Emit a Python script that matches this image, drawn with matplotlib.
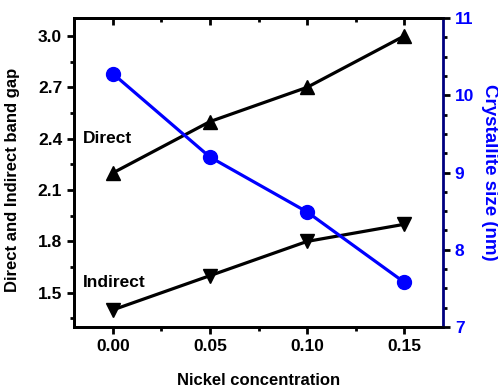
import matplotlib
matplotlib.use("Agg")
import matplotlib.pyplot as plt
from matplotlib.ticker import MultipleLocator

plt.rcParams['font.family'] = ['Liberation Sans', 'DejaVu Sans']
plt.rcParams['font.weight'] = 'bold'

nickel = [0.00, 0.05, 0.10, 0.15]
direct_gap = [2.2, 2.5, 2.7, 3.0]
indirect_gap = [1.4, 1.6, 1.8, 1.9]
crystallite = [10.28, 9.2, 8.49, 7.58]

fig = plt.figure(figsize=(4.98, 3.9), dpi=100)
ax = fig.add_axes([0.1486, 0.1615, 0.741, 0.7923])
ax2 = ax.twinx()

ax.plot(nickel, direct_gap, color='black', lw=2.3, marker='^', ms=10)
ax.plot(nickel, indirect_gap, color='black', lw=2.3, marker='v', ms=10)
ax2.plot(nickel, crystallite, color='#0000FF', lw=2.3, marker='o', ms=10)

ax.set_xlim(-0.02, 0.17)
ax.set_ylim(1.3, 3.105)
ax2.set_ylim(7, 11)

ax.xaxis.set_major_locator(MultipleLocator(0.05))
ax.xaxis.set_minor_locator(MultipleLocator(0.025))
ax.yaxis.set_major_locator(MultipleLocator(0.3))
ax.yaxis.set_minor_locator(MultipleLocator(0.15))
ax2.yaxis.set_major_locator(MultipleLocator(1))
ax2.yaxis.set_minor_locator(MultipleLocator(0.25))

ax.set_xticks([0.0, 0.05, 0.10, 0.15])
ax.set_xticklabels(['0.00', '0.05', '0.10', '0.15'])

# top ticks pointing inward
sec = ax.secondary_xaxis('top')
sec.xaxis.set_major_locator(MultipleLocator(0.05))
sec.xaxis.set_minor_locator(MultipleLocator(0.025))
sec.tick_params(axis='x', which='major', direction='in', length=5, width=2, labeltop=False)
sec.tick_params(axis='x', which='minor', direction='in', length=3, width=2)
sec.spines['top'].set_linewidth(2)

for s in ['left', 'bottom', 'top']:
    ax.spines[s].set_linewidth(2)
ax.spines['right'].set_visible(False)
ax2.spines['right'].set_color('#000080')
ax2.spines['right'].set_linewidth(2)
for s in ['left', 'bottom', 'top']:
    ax2.spines[s].set_linewidth(2)

ax.tick_params(axis='both', which='major', direction='out', length=5, width=2, labelsize=12.5)
ax.tick_params(axis='both', which='minor', direction='out', length=3, width=2)
ax.tick_params(axis='x', which='both', top=False)
ax.tick_params(axis='y', which='both', right=False)
ax2.tick_params(axis='y', which='major', direction='out', length=5, width=2, labelsize=12.5, labelcolor='#0000FF', color='black')
ax2.tick_params(axis='y', which='minor', direction='out', length=3, width=2, color='black')

ax.set_xlabel('Nickel concentration', fontsize=12, fontweight='bold', labelpad=14)
ax.set_ylabel('Direct and Indirect band gap', fontsize=12, fontweight='bold')
ax.yaxis.set_label_coords(-0.145, 0.475)
ax2.set_ylabel('Crystallite size (nm)', fontsize=13.5, fontweight='bold', color='#0000FF',
               rotation=270, va='center', ha='center')
ax2.yaxis.set_label_coords(1.127, 0.5)

ax.text(-0.0155, 2.4, 'Direct', fontsize=12.5, fontweight='bold', va='center', ha='left')
ax.text(-0.0155, 1.56, 'Indirect', fontsize=12.5, fontweight='bold', va='center', ha='left')

fig.savefig('out.png', dpi=100)
